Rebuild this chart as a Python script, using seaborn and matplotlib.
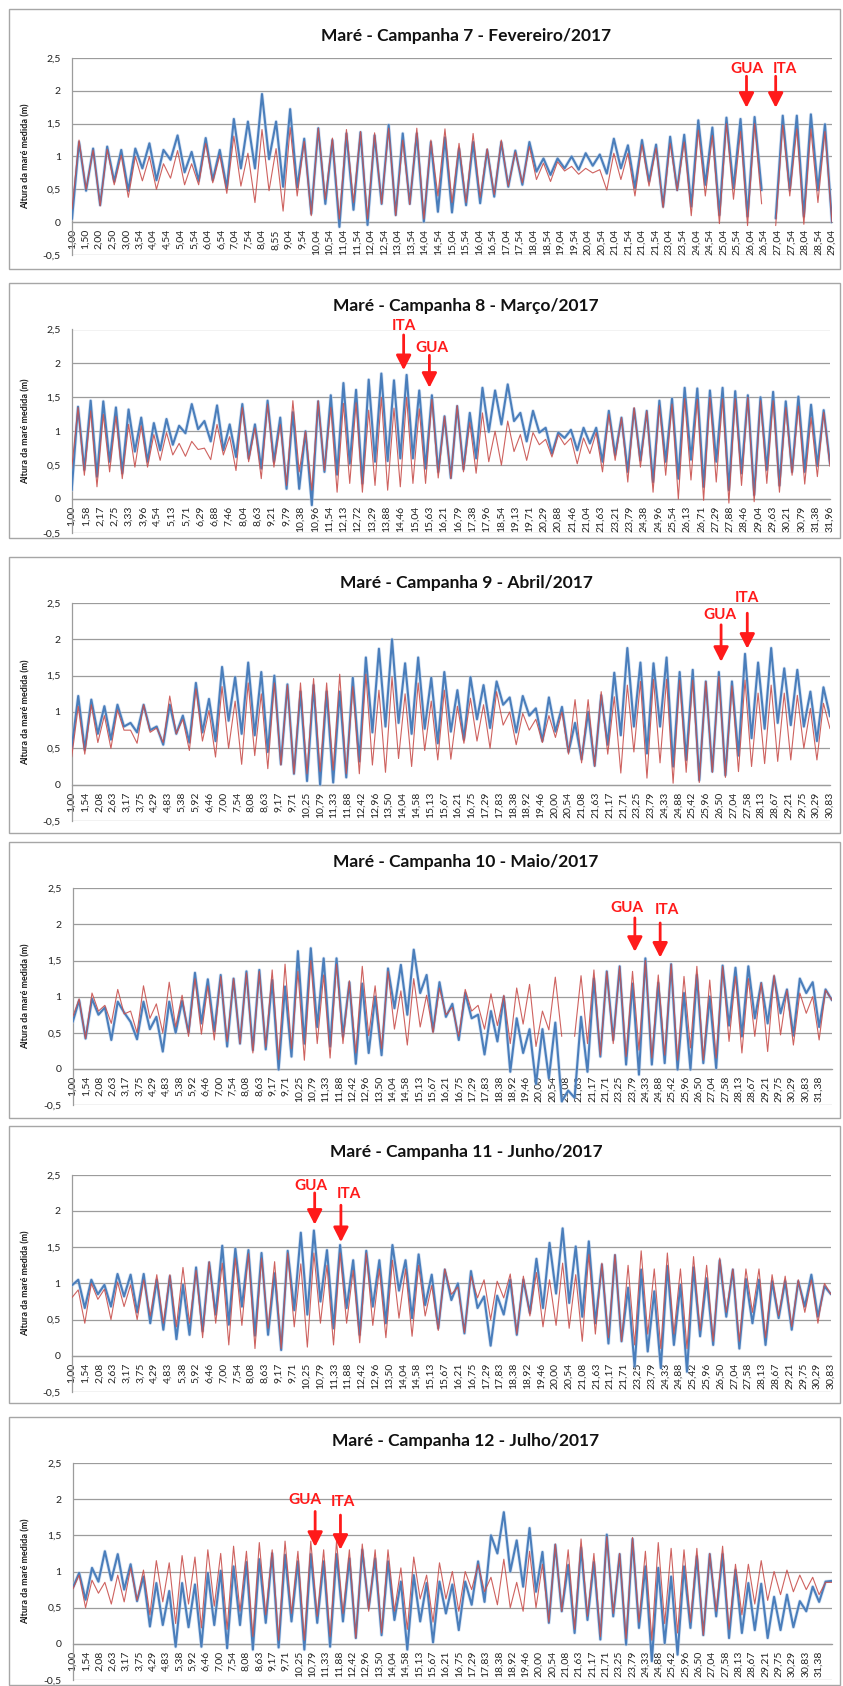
import numpy as np
import pandas as pd
import matplotlib
matplotlib.use("Agg")
import matplotlib.pyplot as plt
import seaborn as sns
from matplotlib.patches import Rectangle

# ---------------- DATA (tide extremes, alternating low/high) ----------------
titles = ["Maré - Campanha 7 - Fevereiro/2017", "Maré - Campanha 8 - Março/2017",
          "Maré - Campanha 9 - Abril/2017", "Maré - Campanha 10 - Maio/2017",
          "Maré - Campanha 11 - Junho/2017", "Maré - Campanha 12 - Julho/2017"]
y_label = "Altura da maré medida (m)"
y_ticks = [-0.5, 0, 0.5, 1, 1.5, 2, 2.5]
y_tick_labels = ["-0,5", "0", "0,5", "1", "1,5", "2", "2,5"]

labels_p1 = ["1,00", "1,50", "2,00", "2,50", "3,00", "3,54", "4,04", "4,54", "5,04", "5,54", "6,04", "6,54",
             "7,04", "7,54", "8,04", "8,55", "9,04", "9,54", "10,04", "10,54", "11,04", "11,54", "12,04",
             "12,54", "13,04", "13,54", "14,04", "14,54", "15,04", "15,54", "16,04", "16,54", "17,04",
             "17,54", "18,04", "18,54", "19,04", "19,54", "20,04", "20,54", "21,04", "21,54", "21,04",
             "21,54", "23,04", "23,54", "24,04", "24,54", "25,04", "25,54", "26,04", "26,54", "27,04",
             "27,54", "28,04", "28,54", "29,04"]
labels_p2 = ["1,00", "1,58", "2,17", "2,75", "3,33", "3,96", "4,54", "5,13", "5,71", "6,29", "6,88", "7,46",
             "8,04", "8,63", "9,21", "9,79", "10,38", "10,96", "11,54", "12,13", "12,72", "13,29", "13,88",
             "14,46", "15,04", "15,63", "16,21", "16,79", "17,38", "17,96", "18,54", "19,13", "19,71",
             "20,29", "20,88", "21,46", "21,04", "21,63", "23,21", "23,79", "24,38", "24,96", "25,54",
             "26,13", "26,71", "27,29", "27,88", "28,46", "29,04", "29,63", "30,21", "30,79", "31,38", "31,96"]
labels_p3 = ["1,00", "1,54", "2,08", "2,63", "3,17", "3,75", "4,29", "4,83", "5,38", "5,92", "6,46", "7,00",
             "7,54", "8,08", "8,63", "9,17", "9,71", "10,25", "10,79", "11,33", "11,88", "12,42", "12,96",
             "13,50", "14,04", "14,58", "15,13", "15,67", "16,21", "16,75", "17,29", "17,83", "18,38",
             "18,92", "19,46", "20,00", "20,54", "21,08", "21,63", "21,17", "21,71", "23,25", "23,79",
             "24,33", "24,88", "25,42", "25,96", "26,50", "27,04", "27,58", "28,13", "28,67", "29,21",
             "29,75", "30,29", "30,83"]
labels_p4 = labels_p3 + ["31,38"]
labels_p5 = list(labels_p3)
labels_p6 = list(labels_p4)

# Panel 1 (Campanha 7)
p1_blue_hi = [1.22, 1.12, 1.15, 1.10, 1.12, 1.20, 1.10, 1.32, 1.07, 1.28, 1.10, 1.57, 1.53, 1.95, 1.53, 1.72,
              1.27, 1.43, 1.25, 1.35, 1.37, 1.32, 1.48, 1.35, 1.35, 1.22,
              1.29, 1.12, 1.22, 1.10, 1.22, 1.09, 1.22, 0.97, 0.97, 1.00, 1.05, 1.03, 1.27, 1.17, 1.25, 1.18,
              1.30, 1.33, 1.55, 1.44, 1.59, 1.57, 1.60, None, 1.62, 1.62, 1.64, 1.49]
p1_blue_lo = [0.05, 0.48, 0.26, 0.62, 0.48, 0.82, 0.64, 0.95, 0.76, 0.63, 0.64, 0.52, 0.82, 0.82, 0.96, 0.54,
              0.53, 0.13, 0.28, -0.07, 0.19, -0.04, 0.28, 0.11, 0.28, 0.01,
              0.16, 0.15, 0.26, 0.29, 0.39, 0.54, 0.57, 0.77, 0.72, 0.82, 0.80, 0.86, 0.74, 0.82, 0.52, 0.62,
              0.24, 0.49, 0.24, 0.57, 0.11, 0.52, 0.09, 0.49, 0.06, 0.49, 0.09, 0.49, 0.00]
p1_red_hi = [1.25, 1.10, 1.11, 1.02, 1.00, 1.00, 0.89, 1.09, 0.89, 1.20, 1.02, 1.31, 1.05, 1.41, 1.12, 1.44,
             1.23, 1.43, 1.28, 1.41, 1.38, 1.36, 1.43, 1.25, 1.43, 1.25,
             1.42, 1.20, 1.35, 1.12, 1.25, 1.07, 1.15, 0.90, 0.92, 0.85, 0.82, 0.80, 1.05, 1.05, 1.18, 1.13,
             1.20, 1.22, 1.40, 1.32, 1.50, 1.38, 1.50, None, 1.48, 1.42, 1.42, 1.38]
p1_red_lo = [0.20, 0.50, 0.25, 0.57, 0.38, 0.63, 0.50, 0.67, 0.57, 0.57, 0.60, 0.44, 0.55, 0.30, 0.48, 0.17,
             0.40, 0.10, 0.35, 0.05, 0.30, 0.05, 0.28, 0.10, 0.27, 0.05,
             0.40, 0.30, 0.30, 0.38, 0.42, 0.55, 0.60, 0.65, 0.62, 0.78, 0.73, 0.75, 0.49, 0.65, 0.40, 0.55,
             0.22, 0.48, 0.10, 0.40, -0.02, 0.35, -0.05, 0.28, -0.05, 0.40, -0.03, 0.30, 0.00]

# Panel 2 (Campanha 8)
p2_blue_hi = [1.36, 1.45, 1.44, 1.35, 1.32, 1.20, 1.12, 1.18, 1.08, 1.40, 1.15, 1.38, 1.10, 1.40, 1.10, 1.45,
              1.20, 1.28, 1.00, 1.44, 1.53, 1.71, 1.61, 1.76, 1.85, 1.75, 1.83, 1.60,
              1.53, 1.22, 1.37, 1.27, 1.64, 1.60, 1.69, 1.27, 1.30, 1.05, 0.98, 1.02, 1.05, 1.05, 1.30, 1.20,
              1.33, 1.30, 1.45, 1.48, 1.64, 1.63, 1.60, 1.64, 1.59, 1.53, 1.50, 1.58, 1.44, 1.51, 1.39, 1.31]
p2_blue_lo = [0.13, 0.43, 0.33, 0.55, 0.38, 0.70, 0.55, 0.72, 0.80, 0.97, 1.03, 0.85, 0.72, 0.62, 0.60, 0.45,
              0.55, 0.15, 0.15, -0.09, 0.40, 0.36, 0.52, 0.23, 0.55, 0.56, 0.60, 0.60,
              0.45, 0.40, 0.31, 0.44, 0.60, 0.99, 1.10, 1.15, 0.85, 0.98, 0.67, 0.90, 0.72, 0.82, 0.55, 0.65,
              0.40, 0.57, 0.25, 0.55, 0.30, 0.58, 0.18, 0.55, 0.13, 0.38, 0.06, 0.43, 0.20, 0.40, 0.40, 0.49,
              0.52]
p2_red_hi = [1.35, 1.30, 1.25, 1.22, 1.10, 1.08, 0.95, 0.98, 0.82, 0.85, 0.75, 1.10, 0.92, 1.35, 1.05, 1.40,
             1.10, 1.45, 1.00, 1.45, 1.35, 1.41, 1.42, 1.31, 1.50, 1.34, 1.50, 1.33,
             1.47, 1.22, 1.38, 1.13, 1.27, 1.00, 1.15, 0.95, 0.98, 0.88, 0.95, 0.90, 0.90, 0.98, 1.25, 1.20,
             1.35, 1.30, 1.38, 1.40, 1.48, 1.47, 1.50, 1.48, 1.48, 1.50, 1.45, 1.45, 1.35, 1.37, 1.20, 1.28]
p2_red_lo = [0.45, 0.35, 0.18, 0.40, 0.30, 0.47, 0.47, 0.57, 0.65, 0.63, 0.73, 0.58, 0.65, 0.42, 0.55, 0.30,
             0.47, 0.20, 0.40, 0.13, 0.42, 0.10, 0.23, 0.10, 0.20, 0.13, 0.18, 0.23,
             0.23, 0.31, 0.30, 0.40, 0.38, 0.55, 0.50, 0.70, 0.57, 0.80, 0.62, 0.80, 0.52, 0.67, 0.40, 0.57,
             0.25, 0.47, 0.10, 0.35, 0.00, 0.28, -0.02, 0.25, -0.06, 0.20, -0.04, 0.23, 0.10, 0.35, 0.22, 0.33,
             0.48]

# Panel 3 (Campanha 9)
p3_blue_hi = [1.22, 1.17, 1.08, 1.10, 0.85, 1.10, 0.80, 1.10, 0.95, 1.40, 1.18, 1.62, 1.48, 1.68, 1.55, 1.50,
              1.38, 1.28, 1.37, 1.28, 1.28, 1.47, 1.75, 1.87, 2.00, 1.67, 1.75, 1.47,
              1.55, 1.30, 1.48, 1.37, 1.42, 1.20, 1.22, 1.05, 1.20, 1.07, 0.85, 1.00, 1.23, 1.54, 1.88, 1.68,
              1.67, 1.75, 1.55, 1.58, 1.42, 1.55, 1.42, 1.80, 1.68, 1.88, 1.60, 1.58, 1.28, 1.34]
p3_blue_lo = [0.50, 0.48, 0.70, 0.62, 0.80, 0.72, 0.75, 0.55, 0.70, 0.58, 0.72, 0.60, 0.88, 0.70, 0.68, 0.45,
              0.28, 0.15, 0.05, 0.00, 0.03, 0.10, 0.32, 0.72, 0.80, 0.85, 0.70, 0.77,
              0.57, 0.73, 0.62, 0.90, 0.78, 1.10, 0.72, 0.95, 0.60, 0.73, 0.45, 0.35, 0.26, 0.55, 0.68, 0.80,
              0.43, 0.80, 0.25, 0.34, 0.06, 0.18, 0.13, 0.40, 0.64, 0.77, 0.85, 0.82, 0.80, 0.60, 0.94]
p3_red_hi = [1.08, 1.10, 0.95, 1.03, 0.75, 1.10, 0.78, 1.22, 0.90, 1.32, 1.02, 1.35, 1.15, 1.40, 1.25, 1.40,
             1.37, 1.40, 1.46, 1.40, 1.52, 1.35, 1.52, 1.30, 1.48, 1.25, 1.40, 1.15,
             1.30, 1.08, 1.19, 1.10, 1.28, 1.00, 0.98, 0.90, 0.95, 1.00, 1.17, 1.17, 1.28, 1.21, 1.37, 1.42,
             1.45, 1.45, 1.44, 1.44, 1.42, 1.49, 1.36, 1.44, 1.26, 1.37, 1.26, 1.23, 1.05, 1.12]
p3_red_lo = [0.38, 0.42, 0.58, 0.50, 0.75, 0.57, 0.72, 0.58, 0.70, 0.47, 0.60, 0.38, 0.50, 0.28, 0.40, 0.22,
             0.27, 0.15, 0.15, 0.18, 0.20, 0.15, 0.15, 0.27, 0.17, 0.36, 0.25, 0.47,
             0.34, 0.35, 0.57, 0.60, 0.50, 0.82, 0.55, 0.75, 0.58, 0.65, 0.42, 0.30, 0.25, 0.42, 0.16, 0.45,
             0.09, 0.30, 0.02, 0.17, 0.03, 0.17, 0.10, 0.18, 0.25, 0.29, 0.32, 0.34, 0.50, 0.34, 0.77]

# Panel 4 (Campanha 10)
p4_blue_hi = [0.95, 0.97, 0.85, 0.93, 0.65, 0.93, 0.72, 0.93, 0.94, 1.33, 1.24, 1.30, 1.25, 1.35, 1.37, 1.23,
              1.14, 1.63, 1.67, 1.53, 1.53, 1.20, 1.18, 1.00, 1.39, 1.44, 1.65, 1.30,
              1.20, 0.90, 1.05, 0.75, 0.80, 1.00, 0.70, 0.55, 0.55, 0.64, -0.30, 0.72, 1.25, 1.35, 1.42, 1.18,
              1.53, 1.19, 1.45, 1.05, 1.30, 1.00, 1.43, 1.40, 1.42, 1.19, 1.28, 1.10, 1.25, 1.20, 1.10]
p4_blue_lo = [0.65, 0.42, 0.75, 0.40, 0.78, 0.41, 0.55, 0.24, 0.50, 0.50, 0.63, 0.52, 0.31, 0.35, 0.26, 0.27,
              -0.01, 0.17, 0.35, 0.58, 0.31, 0.45, 0.07, 0.22, 0.19, 0.84, 0.75, 1.05,
              0.52, 0.72, 0.40, 0.70, 0.20, 0.38, -0.04, 0.22, -0.21, -0.13, -0.45, -0.40, -0.04, 0.17, 0.40,
              0.06, -0.08, 0.06, 0.08, -0.01, -0.01, 0.08, 0.01, 0.60, 0.45, 0.70, 0.63, 0.77, 0.46, 1.05, 0.58,
              0.95]
p4_red_hi = [0.97, 1.05, 0.88, 1.10, 0.80, 1.15, 0.90, 1.20, 1.02, 1.25, 1.15, 1.28, 1.25, 1.33, 1.35, 1.37,
             1.45, 1.35, 1.50, 1.30, 1.45, 1.22, 1.42, 1.15, 1.35, 1.08, 1.25, 1.02,
             1.12, 0.85, 1.10, 0.88, 1.04, 1.02, 1.12, 1.17, 0.80, 1.27, None, 1.29, 1.37, 1.35, 1.42, 1.35,
             1.50, 1.30, 1.45, 1.28, 1.42, 1.23, 1.42, 1.28, 1.25, 1.19, 1.30, 1.09, 1.05, 1.00, 1.09]
p4_red_lo = [0.72, 0.42, 0.80, 0.63, 0.76, 0.50, 0.70, 0.50, 0.58, 0.45, 0.48, 0.40, 0.38, 0.35, 0.22, 0.30,
             0.13, 0.28, 0.12, 0.35, 0.15, 0.35, 0.22, 0.46, 0.28, 0.55, 0.33, 0.58,
             0.50, 0.75, 0.45, 0.80, 0.55, 0.60, 0.35, 0.62, 0.31, 0.54, 0.45, 0.45, 0.35, 0.19, 0.35, 0.17,
             0.26, 0.15, 0.19, 0.12, 0.29, 0.12, 0.15, 0.38, 0.22, 0.45, 0.24, 0.47, 0.33, 0.77, 0.40, 0.95]

# Panel 5 (Campanha 11)
p5_blue_hi = [1.05, 1.05, 0.98, 1.13, 1.12, 1.13, 1.05, 1.10, 0.98, 1.22, 1.29, 1.52, 1.48, 1.46, 1.42, 1.14,
              1.45, 1.70, 1.73, 1.46, 1.53, 1.32, 1.45, 1.32, 1.53, 1.32, 1.40,
              1.12, 1.19, 1.00, 1.17, 0.82, 0.83, 1.05, 1.05, 1.34, 1.56, 1.76, 1.51, 1.58, 1.26, 1.39, 0.94,
              1.19, 0.89, 1.24, 0.98, 1.22, 1.07, 1.32, 1.19, 1.06, 1.05, 1.03, 1.03, 1.03, 1.12, 0.96]
p5_blue_lo = [0.97, 0.66, 0.85, 0.68, 0.82, 0.60, 0.45, 0.36, 0.23, 0.29, 0.34, 0.57, 0.43, 0.68, 0.28, 0.29,
              0.08, 0.63, 0.57, 0.75, 0.38, 0.66, 0.29, 0.68, 0.45, 0.90, 0.52,
              0.70, 0.38, 0.77, 0.31, 0.66, 0.14, 0.57, 0.29, 0.59, 0.66, 0.86, 0.73, 0.54, 0.45, 0.17, 0.20,
              -0.15, 0.06, -0.17, 0.15, -0.22, 0.27, 0.15, 0.54, 0.10, 0.45, 0.15, 0.52, 0.36, 0.68, 0.54, 0.85]
p5_red_hi = [0.91, 1.00, 0.92, 1.02, 0.98, 1.05, 1.12, 1.12, 1.22, 1.18, 1.30, 1.28, 1.35, 1.41, 1.35, 1.30,
             1.42, 1.27, 1.42, 1.25, 1.42, 1.18, 1.42, 1.20, 1.32, 1.20, 1.25,
             0.97, 1.20, 0.95, 1.10, 1.05, 1.03, 1.13, 1.10, 1.15, 1.05, 1.28, 1.12, 1.40, 1.28, 1.40, 1.25,
             1.45, 1.20, 1.42, 1.20, 1.37, 1.25, 1.35, 1.20, 1.20, 1.20, 1.12, 1.10, 1.05, 1.05, 1.00]
p5_red_lo = [0.80, 0.45, 0.78, 0.50, 0.68, 0.50, 0.55, 0.45, 0.40, 0.45, 0.25, 0.45, 0.15, 0.42, 0.10, 0.38,
             0.10, 0.40, 0.12, 0.45, 0.15, 0.45, 0.18, 0.42, 0.25, 0.52, 0.27,
             0.55, 0.35, 0.85, 0.32, 0.80, 0.50, 0.80, 0.30, 0.55, 0.40, 0.42, 0.38, 0.20, 0.30, 0.25, 0.20,
             0.15, 0.30, 0.10, 0.30, 0.10, 0.35, 0.20, 0.60, 0.20, 0.60, 0.25, 0.55, 0.40, 0.60, 0.45, 0.85]

# Panel 6 (Campanha 12)
p6_blue_hi = [0.98, 1.05, 1.28, 1.24, 1.10, 0.93, 0.84, 0.73, 0.84, 0.82, 0.98, 1.01, 1.07, 1.13, 1.17, 1.25,
              1.23, 1.14, 1.24, 1.14, 1.24, 1.18, 1.30, 1.18, 1.14, 0.86, 0.95, 0.84,
              0.86, 0.82, 0.86, 1.14, 1.50, 1.82, 1.43, 1.60, 1.27, 1.37, 1.09, 1.33, 1.13, 1.51, 1.24, 1.45,
              1.07, 1.05, 0.93, 1.07, 1.21, 1.24, 1.24, 1.02, 0.84, 0.83, 0.65, 0.68, 0.59, 0.79, 0.86]
p6_blue_lo = [0.77, 0.61, 0.86, 0.88, 0.75, 0.59, 0.24, 0.26, -0.04, 0.23, -0.04, 0.26, -0.06, 0.26, -0.08,
              0.29, -0.05, 0.31, -0.08, 0.29, -0.04, 0.31, 0.08, 0.49, 0.12, 0.33, -0.08, 0.31,
              0.02, 0.42, 0.19, 0.54, 0.58, 1.25, 1.00, 0.79, 0.72, 0.29, 0.45, 0.15, 0.33, 0.06, 0.38, -0.01,
              0.22, -0.24, 0.01, -0.15, 0.22, 0.12, 0.38, 0.08, 0.15, 0.19, 0.08, 0.19, 0.23, 0.45, 0.58, 0.87]
p6_red_hi = [0.95, 0.88, 0.85, 0.95, 1.05, 1.02, 1.15, 1.12, 1.22, 1.20, 1.30, 1.25, 1.35, 1.28, 1.40, 1.30,
             1.42, 1.28, 1.42, 1.30, 1.42, 1.30, 1.38, 1.30, 1.30, 1.05, 1.20, 0.95,
             1.12, 1.00, 1.00, 1.10, 0.92, 1.17, 0.85, 1.28, 1.10, 1.38, 1.30, 1.45, 1.25, 1.48, 1.25, 1.47,
             1.28, 1.40, 1.32, 1.30, 1.32, 1.25, 1.35, 1.10, 1.10, 1.15, 1.00, 1.02, 0.95, 0.92, 0.85]
p6_red_lo = [0.75, 0.50, 0.70, 0.55, 0.58, 0.60, 0.40, 0.58, 0.28, 0.55, 0.22, 0.52, 0.20, 0.45, 0.10, 0.40,
             0.05, 0.42, 0.05, 0.38, 0.10, 0.42, 0.08, 0.45, 0.15, 0.45, 0.20, 0.62,
             0.30, 0.62, 0.45, 0.75, 0.72, 0.54, 0.50, 0.45, 0.50, 0.30, 0.45, 0.20, 0.38, 0.10, 0.42, 0.07,
             0.30, 0.05, 0.28, 0.15, 0.30, 0.12, 0.45, 0.20, 0.40, 0.55, 0.60, 0.68, 0.72, 0.75, 0.68, 0.85]

# Station markers: (name, text x, text y, arrow x, arrow tail, arrow tip)
notes_p1 = [("GUA", 49.7, 2.33, 49.7, 2.22, 1.74), ("ITA", 52.5, 2.33, 51.85, 2.22, 1.74)]
notes_p2 = [("ITA", 23.2, 2.55, 23.2, 2.42, 1.90), ("GUA", 25.2, 2.23, 25.0, 2.12, 1.64)]
notes_p3 = [("GUA", 47.0, 2.33, 47.1, 2.20, 1.69), ("ITA", 49.0, 2.57, 49.0, 2.36, 1.87)]
notes_p4 = [("GUA", 41.6, 2.23, 42.2, 2.09, 1.62), ("ITA", 44.6, 2.20, 44.1, 2.02, 1.54)]
notes_p5 = [("GUA", 17.3, 2.34, 17.6, 2.25, 1.81), ("ITA", 20.1, 2.23, 19.5, 2.08, 1.57)]
notes_p6 = [("GUA", 17.4, 1.99, 18.2, 1.83, 1.34), ("ITA", 20.3, 1.96, 20.1, 1.78, 1.30)]

# ---------------- STYLE / LAYOUT ----------------
sns.set_style("white")
plt.rcParams["font.family"] = ["Lato", "DejaVu Sans"]

W, H = 843, 1686
fig = plt.figure(figsize=(W / 100, H / 100), dpi=100)
fig.patch.set_facecolor("white")

BLUE = "#4a7ebb"
RED = "#c9514e"
GRID = "#9c9c9c"

panels = [
    dict(labels=labels_p1, blue=(p1_blue_lo, p1_blue_hi), red=(p1_red_lo, p1_red_hi), extra=0,
         ax=(72, 832, 57.8, 255.2), frame=(8.6, 268.8), ty=35.5, notes=notes_p1),
    dict(labels=labels_p2, blue=(p2_blue_lo, p2_blue_hi), red=(p2_red_lo, p2_red_hi), extra=0,
         ax=(71.7, 830, 329.5, 532.9), frame=(282.7, 537.5), ty=306, notes=notes_p2),
    dict(labels=labels_p3, blue=(p3_blue_lo, p3_blue_hi), red=(p3_red_lo, p3_red_hi), extra=0,
         ax=(71.7, 830, 603, 821), frame=(556.8, 833), ty=583, notes=notes_p3),
    dict(labels=labels_p4, blue=(p4_blue_lo, p4_blue_hi), red=(p4_red_lo, p4_red_hi), extra=1,
         ax=(72.7, 832, 888.3, 1105), frame=(841.8, 1118), ty=862, notes=notes_p4),
    dict(labels=labels_p5, blue=(p5_blue_lo, p5_blue_hi), red=(p5_red_lo, p5_red_hi), extra=0,
         ax=(71.7, 831, 1174.8, 1392), frame=(1125.6, 1403), ty=1151.5, notes=notes_p5),
    dict(labels=labels_p6, blue=(p6_blue_lo, p6_blue_hi), red=(p6_red_lo, p6_red_hi), extra=1,
         ax=(72.7, 832, 1463, 1680), frame=(1417, 1685), ty=1441, notes=notes_p6),
]


def interleave(lo, hi):
    seq = []
    for i in range(len(hi)):
        seq += [lo[i], hi[i]]
    seq.append(lo[-1])
    return np.array(seq, dtype=float)


def draw_series(ax, y, xmax, color, lw, z, alpha=1.0):
    x = np.linspace(0, xmax, len(y))
    valid = ~np.isnan(y)
    seg = np.cumsum(~valid)
    df = pd.DataFrame({"x": x[valid], "y": y[valid], "seg": seg[valid]})
    sns.lineplot(data=df, x="x", y="y", units="seg", estimator=None, sort=False,
                 color=color, lw=lw, alpha=alpha, ax=ax, zorder=z,
                 solid_joinstyle="round", solid_capstyle="round")


for i, p in enumerate(panels):
    l, r, t, b = p["ax"]
    ax = fig.add_axes([l / W, 1 - b / H, (r - l) / W, (b - t) / H])
    xmax = len(p["labels"]) - 1 + p["extra"]

    blue = interleave(*p["blue"])
    red = interleave(*p["red"])
    draw_series(ax, blue, xmax, "#b3cbea", 2.6, 3, alpha=0.5)
    draw_series(ax, blue, xmax, BLUE, 1.5, 4)
    draw_series(ax, red, xmax, RED, 0.8, 5, alpha=0.9)

    ax.spines["bottom"].set_position(("data", 0))
    for s in ["top", "right"]:
        ax.spines[s].set_visible(False)
    ax.spines["bottom"].set_color(GRID)
    ax.spines["bottom"].set_linewidth(0.9)
    ax.spines["left"].set_color(GRID)
    ax.spines["left"].set_linewidth(0.9)

    ax.set_xlim(0, xmax)
    ax.set_ylim(-0.5, 2.5)
    ax.set_yticks(y_ticks)
    ax.set_yticklabels(y_tick_labels)
    ax.set_xticks(np.arange(len(p["labels"])))
    ax.set_xticklabels(p["labels"])
    ax.set_xlabel("")
    ax.set_ylabel(y_label, fontsize=6.5, fontweight="bold", color="#1a1a1a")
    ax.yaxis.set_label_coords((31 - l) / (r - l), 0.5)

    ax.grid(axis="y", color=GRID, lw=0.9)
    ax.grid(axis="x", visible=False)
    ax.set_axisbelow(True)
    ax.tick_params(axis="x", length=3, width=0.7, color=GRID, pad=2, labelsize=7.5,
                   labelcolor="#222222", labelrotation=90)
    ax.tick_params(axis="y", length=3, width=0.7, color=GRID, pad=5, labelsize=7.5, labelcolor="#222222")
    for lab in ax.get_xticklabels():
        lab.set_rotation(90)
        lab.set_ha("center")
        lab.set_va("top")
    ax.set_facecolor("white")

    for name, tx, ty_, ax_x, tail, tip in p["notes"]:
        ax.annotate("", xy=(ax_x, tip), xytext=(ax_x, tail), annotation_clip=False,
                    arrowprops=dict(arrowstyle="-|>,head_length=0.55,head_width=0.28", color="#ff1a1a",
                                    lw=2.0, mutation_scale=16, shrinkA=0, shrinkB=0), zorder=8)
        ax.text(tx, ty_, name, ha="center", va="center", color="#ff1a1a", fontsize=11,
                fontweight="bold", clip_on=False, zorder=8)

    fig.text(466 / W, 1 - p["ty"] / H, titles[i], ha="center", va="center",
             fontsize=12.5, fontweight="bold", color="#111111")

    ft, fb = p["frame"]
    fig.add_artist(Rectangle((8.6 / W, 1 - fb / H), (839.6 - 8.6) / W, (fb - ft) / H,
                             transform=fig.transFigure, fill=False, ec="#a6a6a6", lw=1.0))

fig.savefig("out.png", dpi=100, facecolor="white")
